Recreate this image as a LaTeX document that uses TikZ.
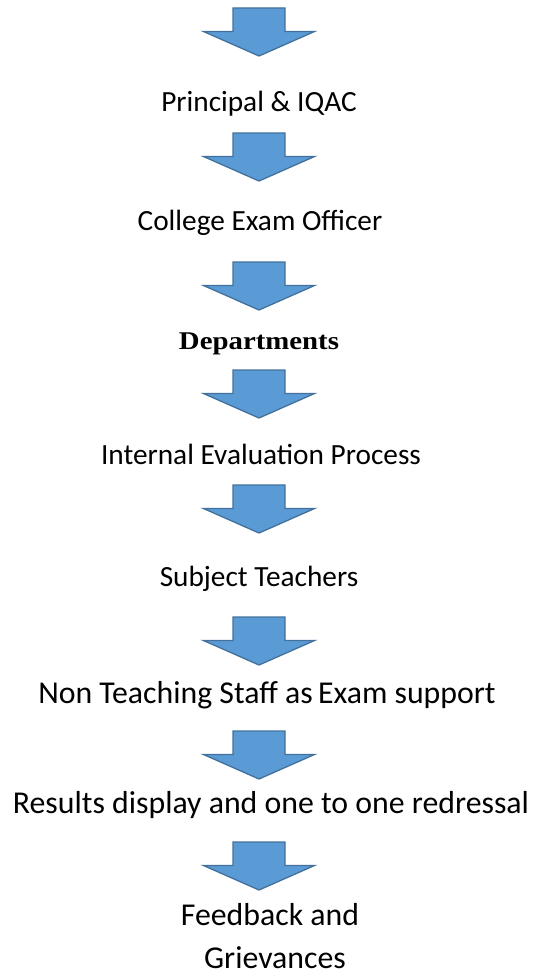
\documentclass[tikz,border=0pt]{standalone}
\usepackage{fontspec}
\setmainfont{Carlito}
\newfontfamily\deptfont[FakeStretch=1.13]{Liberation Serif}
\definecolor{arrfill}{HTML}{5B9BD5}
\definecolor{arrline}{HTML}{41719C}
\tikzset{
  lbl/.style={anchor=base, inner sep=0pt, font=\fontsize{29.3}{34}\selectfont},
  biglbl/.style={lbl, font=\fontsize{31.8}{36}\selectfont},
  blockarrow/.pic={
    \path[fill=arrfill, draw=arrline, line width=1.3pt, line join=miter]
      (-26,0) -- (26,0) -- (26,23.5) -- (55.5,23.5) -- (0,48) -- (-55.5,23.5) -- (-26,23.5) -- cycle;
  }
}
\begin{document}
\begin{tikzpicture}[x=1pt,y=-1pt]
\useasboundingbox (0,0) rectangle (536,974);
\pic at (259,8) {blockarrow};
\node[lbl] (n1) at (259,111) {Principal \& IQAC};
\pic at (259,133) {blockarrow};
\node[lbl] (n2) at (260,230) {College Exam Officer};
\pic at (259,262) {blockarrow};
\node[lbl, font=\deptfont\bfseries\fontsize{25.5}{30}\selectfont] (n3) at (259,349) {Departments};
\pic at (259,370) {blockarrow};
\node[lbl] (n4) at (261,464) {Internal Evaluation Process};
\pic at (259,485) {blockarrow};
\node[lbl] (n5) at (259,586) {Subject Teachers};
\pic at (259,617) {blockarrow};
\node[biglbl] (n6) at (267,703) {Non Teaching Staff as\,Exam support};
\pic at (259,731) {blockarrow};
\node[biglbl] (n7) at (271,813) {Results display and one to one redressal};
\pic at (259,842) {blockarrow};
\node[biglbl] (n8a) at (270,925) {Feedback and};
\node[biglbl] (n8b) at (275,968) {Grievances};
\end{tikzpicture}
\end{document}
